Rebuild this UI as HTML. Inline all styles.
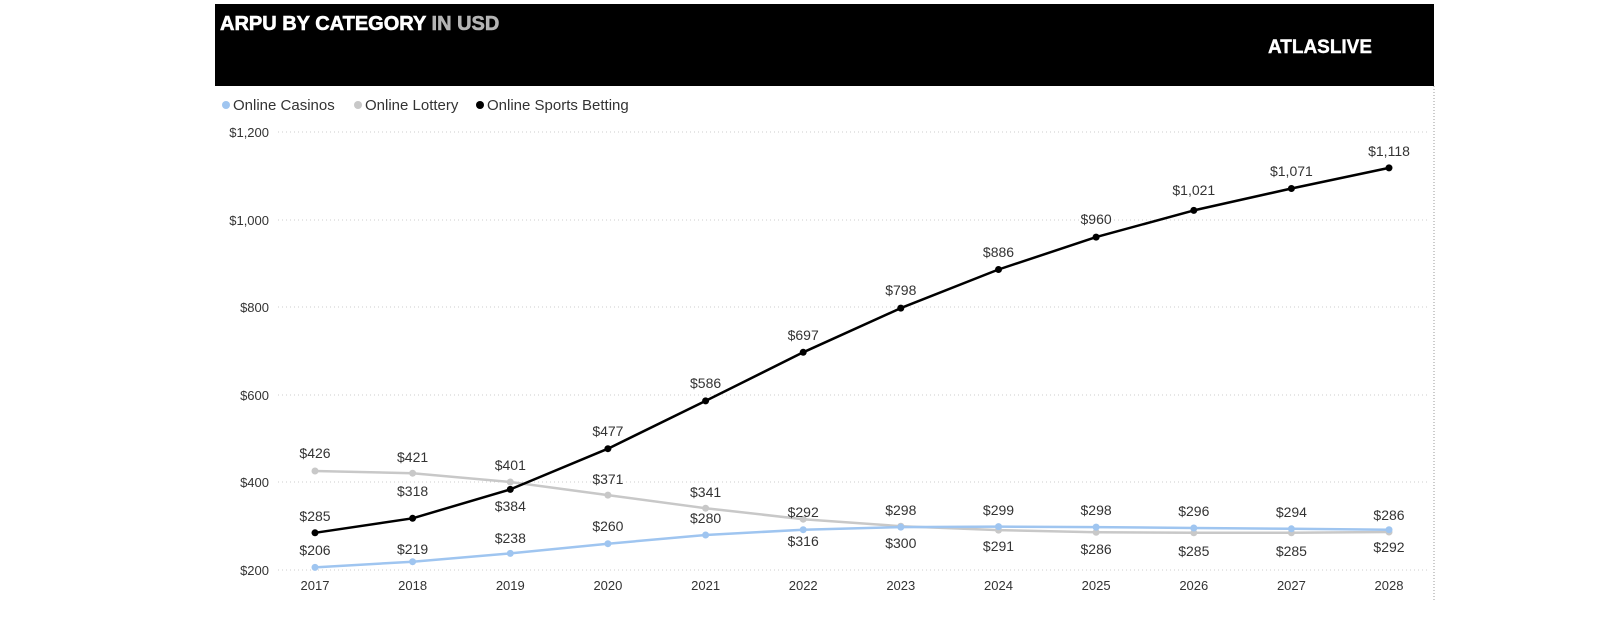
<!DOCTYPE html>
<html><head><meta charset="utf-8"><style>
html,body{margin:0;padding:0;background:#fff;width:1600px;height:642px;overflow:hidden}
svg text{font-family:"Liberation Sans",Arial,sans-serif}
</style></head><body>
<svg width="1600" height="642" viewBox="0 0 1600 642" xmlns="http://www.w3.org/2000/svg">
<rect x="215" y="4" width="1219" height="82" fill="#000"/>
<text x="220" y="30" font-size="20" font-weight="bold" fill="#fff" stroke="#fff" stroke-width="0.6">ARPU BY CATEGORY <tspan fill="#b4b4b4" stroke="#b4b4b4">IN USD</tspan></text>
<text x="1268" y="53" font-size="19" font-weight="bold" fill="#fff" stroke="#fff" stroke-width="0.4" textLength="104" lengthAdjust="spacingAndGlyphs">ATLASLIVE</text>
<line x1="1434" y1="86" x2="1434" y2="600" stroke="#999" stroke-dasharray="1,2"/>
<g font-size="15" fill="#333">
<circle cx="226" cy="105" r="4" fill="#9fc5f0"/><text x="233" y="110">Online Casinos</text>
<circle cx="358" cy="105" r="4" fill="#c8c8c8"/><text x="365" y="110">Online Lottery</text>
<circle cx="480" cy="105" r="4" fill="#000"/><text x="487" y="110">Online Sports Betting</text>
</g>
<g stroke="#ccc" stroke-dasharray="1,3">
<line x1="278" y1="132" x2="1430" y2="132"/><line x1="278" y1="220" x2="1430" y2="220"/>
<line x1="278" y1="307" x2="1430" y2="307"/><line x1="278" y1="395" x2="1430" y2="395"/>
<line x1="278" y1="482" x2="1430" y2="482"/><line x1="278" y1="570" x2="1430" y2="570"/>
</g>
<g font-size="13" fill="#333" text-anchor="end">
<text x="269" y="137">$1,200</text><text x="269" y="225">$1,000</text><text x="269" y="312">$800</text>
<text x="269" y="400">$600</text><text x="269" y="487">$400</text><text x="269" y="575">$200</text>
</g>
<g font-size="13" fill="#333" text-anchor="middle">
<text x="315" y="590">2017</text><text x="412.6" y="590">2018</text><text x="510.3" y="590">2019</text>
<text x="607.9" y="590">2020</text><text x="705.6" y="590">2021</text><text x="803.2" y="590">2022</text>
<text x="900.8" y="590">2023</text><text x="998.5" y="590">2024</text><text x="1096.1" y="590">2025</text>
<text x="1193.8" y="590">2026</text><text x="1291.4" y="590">2027</text><text x="1389" y="590">2028</text>
</g>
<polyline fill="none" stroke="#c8c8c8" stroke-width="2.5" points="315,471 412.6,473.2 510.3,482 607.9,495.1 705.6,508.2 803.2,519.2 900.8,526.2 998.5,530.1 1096.1,532.3 1193.8,532.8 1291.4,532.8 1389,532"/>
<polyline fill="none" stroke="#9fc5f0" stroke-width="2.5" points="315,567.4 412.6,561.7 510.3,553.4 607.9,543.7 705.6,535 803.2,529.7 900.8,527.1 998.5,526.6 1096.1,527.1 1193.8,528 1291.4,528.8 1389,529.7"/>
<polyline fill="none" stroke="#000" stroke-width="2.5" stroke-linejoin="round" points="315,532.8 412.6,518.3 510.3,489.4 607.9,448.7 705.6,400.9 803.2,352.3 900.8,308.1 998.5,269.5 1096.1,237.1 1193.8,210.4 1291.4,188.5 1389,167.9"/>
<g fill="#c8c8c8">
<circle cx="315" cy="471" r="3.5"/><circle cx="412.6" cy="473.2" r="3.5"/><circle cx="510.3" cy="482" r="3.5"/><circle cx="607.9" cy="495.1" r="3.5"/><circle cx="705.6" cy="508.2" r="3.5"/><circle cx="803.2" cy="519.2" r="3.5"/><circle cx="900.8" cy="526.2" r="3.5"/><circle cx="998.5" cy="530.1" r="3.5"/><circle cx="1096.1" cy="532.3" r="3.5"/><circle cx="1193.8" cy="532.8" r="3.5"/><circle cx="1291.4" cy="532.8" r="3.5"/><circle cx="1389" cy="532" r="3.5"/>
</g>
<g fill="#9fc5f0">
<circle cx="315" cy="567.4" r="3.5"/><circle cx="412.6" cy="561.7" r="3.5"/><circle cx="510.3" cy="553.4" r="3.5"/><circle cx="607.9" cy="543.7" r="3.5"/><circle cx="705.6" cy="535" r="3.5"/><circle cx="803.2" cy="529.7" r="3.5"/><circle cx="900.8" cy="527.1" r="3.5"/><circle cx="998.5" cy="526.6" r="3.5"/><circle cx="1096.1" cy="527.1" r="3.5"/><circle cx="1193.8" cy="528" r="3.5"/><circle cx="1291.4" cy="528.8" r="3.5"/><circle cx="1389" cy="529.7" r="3.5"/>
</g>
<g fill="#000">
<circle cx="315" cy="532.8" r="3.5"/><circle cx="412.6" cy="518.3" r="3.5"/><circle cx="510.3" cy="489.4" r="3.5"/><circle cx="607.9" cy="448.7" r="3.5"/><circle cx="705.6" cy="400.9" r="3.5"/><circle cx="803.2" cy="352.3" r="3.5"/><circle cx="900.8" cy="308.1" r="3.5"/><circle cx="998.5" cy="269.5" r="3.5"/><circle cx="1096.1" cy="237.1" r="3.5"/><circle cx="1193.8" cy="210.4" r="3.5"/><circle cx="1291.4" cy="188.5" r="3.5"/><circle cx="1389" cy="167.9" r="3.5"/>
</g>
<g font-size="14" fill="#333" text-anchor="middle">
<text x="315" y="521">$285</text><text x="412.6" y="496">$318</text><text x="510.3" y="511">$384</text>
<text x="607.9" y="436">$477</text><text x="705.6" y="388">$586</text><text x="803.2" y="340">$697</text>
<text x="900.8" y="295">$798</text><text x="998.5" y="257">$886</text><text x="1096.1" y="224">$960</text>
<text x="1193.8" y="195">$1,021</text><text x="1291.4" y="176">$1,071</text><text x="1389" y="156">$1,118</text>
<text x="315" y="458">$426</text><text x="412.6" y="462">$421</text><text x="510.3" y="470">$401</text>
<text x="607.9" y="484">$371</text><text x="705.6" y="497">$341</text><text x="803.2" y="546">$316</text>
<text x="900.8" y="548">$300</text><text x="998.5" y="551">$291</text><text x="1096.1" y="554">$286</text>
<text x="1193.8" y="556">$285</text><text x="1291.4" y="556">$285</text><text x="1389" y="552">$292</text>
<text x="315" y="555">$206</text><text x="412.6" y="554">$219</text><text x="510.3" y="543">$238</text>
<text x="607.9" y="531">$260</text><text x="705.6" y="523">$280</text><text x="803.2" y="517">$292</text>
<text x="900.8" y="515">$298</text><text x="998.5" y="515">$299</text><text x="1096.1" y="515">$298</text>
<text x="1193.8" y="516">$296</text><text x="1291.4" y="517">$294</text><text x="1389" y="520">$286</text>
</g>
</svg>
</body></html>
